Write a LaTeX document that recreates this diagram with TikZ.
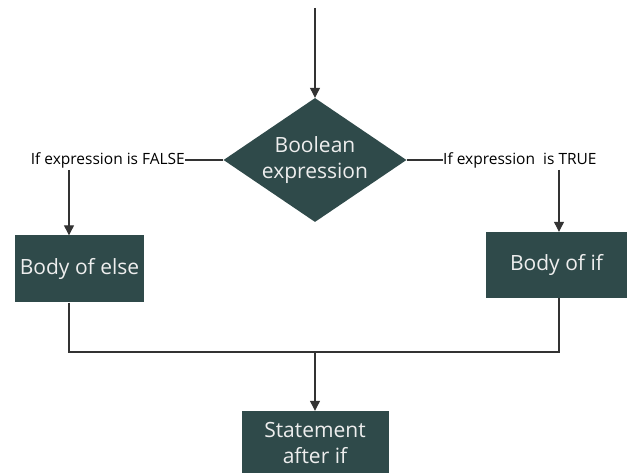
\documentclass[tikz,border=0pt]{standalone}
\usepackage{fontspec}
\setmainfont{Open Sans}
\usetikzlibrary{arrows.meta, positioning, shapes.geometric}
\definecolor{slate}{HTML}{2F4A4A}
\definecolor{paper}{HTML}{EEEEEE}

\begin{document}
\begin{tikzpicture}[
  x=1pt, y=-1pt,
  box/.style={rectangle, fill=slate, text=paper, align=center, inner sep=0pt,
              font=\fontsize{21}{26}\selectfont},
  decide/.style={diamond, aspect=1.48, fill=slate, text=paper, align=center,
                 inner sep=0pt, minimum width=183pt, minimum height=124pt,
                 font=\fontsize{21}{26}\selectfont},
  lbl/.style={inner sep=0pt, font=\fontsize{15.5}{18}\selectfont},
  line/.style={draw=black!80, line width=1.2pt},
  arrow/.style={line, -{Triangle[width=10pt,length=10pt]}}
]
  \useasboundingbox (0,0) rectangle (627,473);
  % 判断
  \coordinate (start) at (315,8);
  \node[decide] (cond) at (315,160) {Boolean\\expression};
  \node[lbl, anchor=east] (false) at (185,160) {If expression is FALSE};
  \node[lbl, anchor=west] (true) at (443,160) {If expression\ \ is TRUE};
  % 两个分支
  \node[box, minimum width=129pt, minimum height=67pt] (else) at (79.5,269) {Body of else};
  \node[box, minimum width=141pt, minimum height=66pt] (if) at (556.5,265) {Body of if};
  \coordinate (fdrop) at (69,170);
  \coordinate (tdrop) at (559,170);
  % 汇合
  \coordinate (join) at (315,352);
  \node[box, minimum width=147pt, minimum height=64pt] (after) at (315,443) {Statement\\after if};
  % 箭头
  \draw[arrow] (start) -- (cond);
  \draw[line] (cond) -- (false);
  \draw[line] (cond) -- (true);
  \draw[arrow] (fdrop) -- (fdrop |- else.north);
  \draw[arrow] (tdrop) -- (tdrop |- if.north);
  \draw[line] (fdrop |- else.south) -- (fdrop |- join) -- (tdrop |- join) -- (tdrop |- if.south);
  \draw[arrow] (join) -- (after.north);
\end{tikzpicture}
\end{document}
